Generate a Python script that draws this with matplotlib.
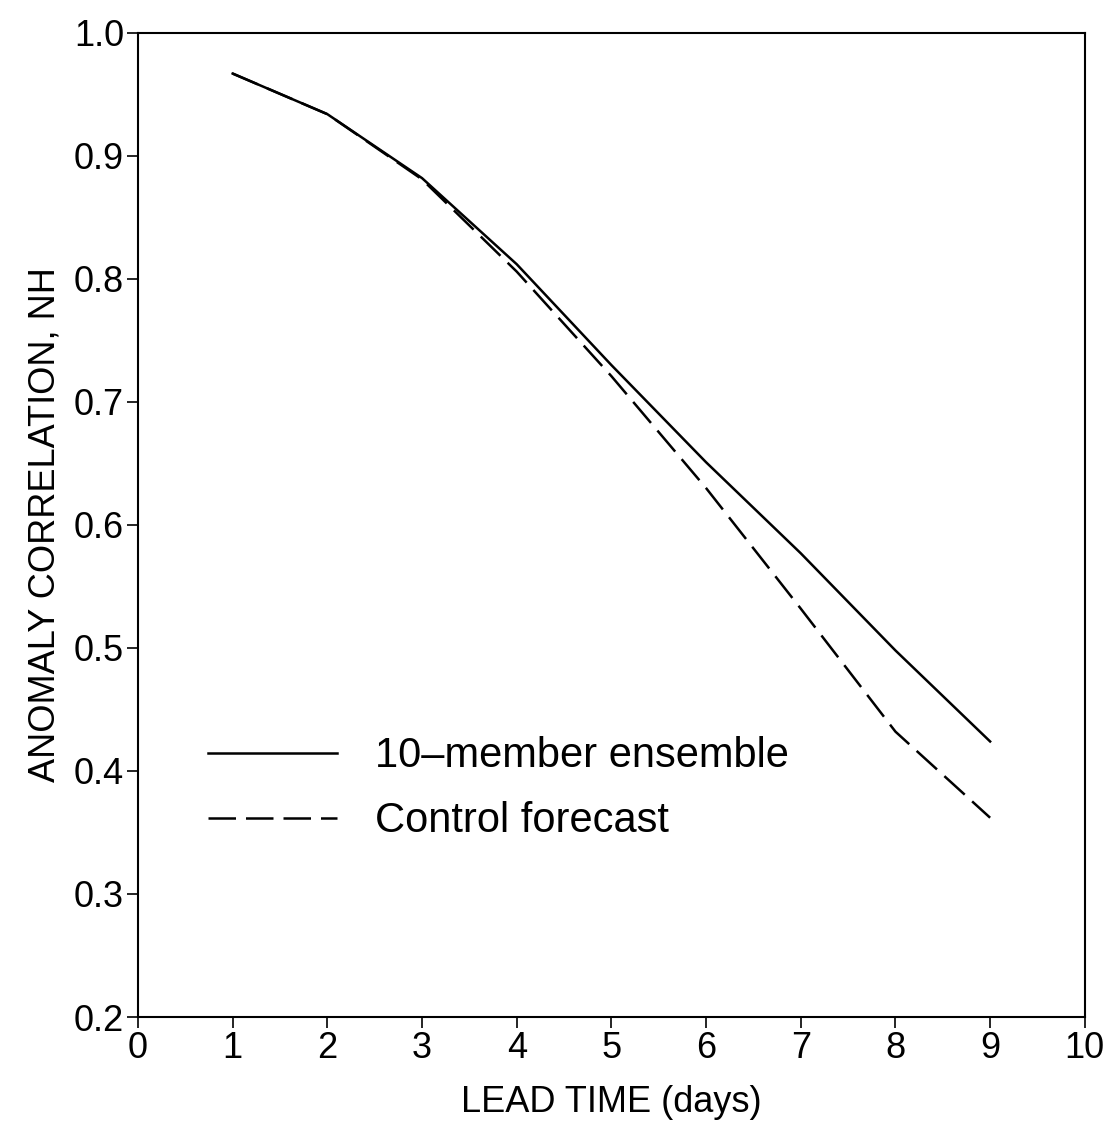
import matplotlib
matplotlib.use("Agg")
import matplotlib.pyplot as plt

plt.rcParams['font.family'] = ['Liberation Sans', 'DejaVu Sans']

lead_days = [1, 2, 3, 4, 5, 6, 7, 8, 9]
ensemble = [0.967, 0.934, 0.882, 0.812, 0.730, 0.651, 0.577, 0.498, 0.424]
control = [0.967, 0.934, 0.881, 0.806, 0.721, 0.630, 0.532, 0.432, 0.362]

x_ticks = list(range(0, 11))
y_ticks = [0.2, 0.3, 0.4, 0.5, 0.6, 0.7, 0.8, 0.9, 1.0]
y_tick_labels = ["0.2", "0.3", "0.4", "0.5", "0.6", "0.7", "0.8", "0.9", "1.0"]

fig = plt.figure(figsize=(11.10, 11.29), dpi=100)
ax = fig.add_axes([0.1243, 0.0992, 0.853, 0.8716])

ax.plot(lead_days, ensemble, color='black', lw=1.8, label='10\u2013member ensemble')
ax.plot(lead_days, control, color='black', lw=1.8, dashes=(11, 4), label='Control forecast')

ax.set_xlim(0, 10)
ax.set_ylim(0.2, 1.0)
ax.set_xticks(x_ticks)
ax.set_xticklabels([str(v) for v in x_ticks])
ax.set_yticks(y_ticks)
ax.set_yticklabels(y_tick_labels)
ax.tick_params(direction='out', length=8, width=1.2, labelsize=26, pad=2, colors='black')
for s in ax.spines.values():
    s.set_linewidth(1.5)

ax.set_xlabel('LEAD TIME (days)', fontsize=26, labelpad=14)
ax.set_ylabel('ANOMALY CORRELATION, NH', fontsize=26, labelpad=8)

leg = ax.legend(loc='center left', bbox_to_anchor=(0.074, 0.232), frameon=False,
                fontsize=30, handlelength=3.1, handletextpad=0.9, labelspacing=0.6,
                borderpad=0, borderaxespad=0)

fig.savefig('out.png', dpi=100, facecolor='white')
